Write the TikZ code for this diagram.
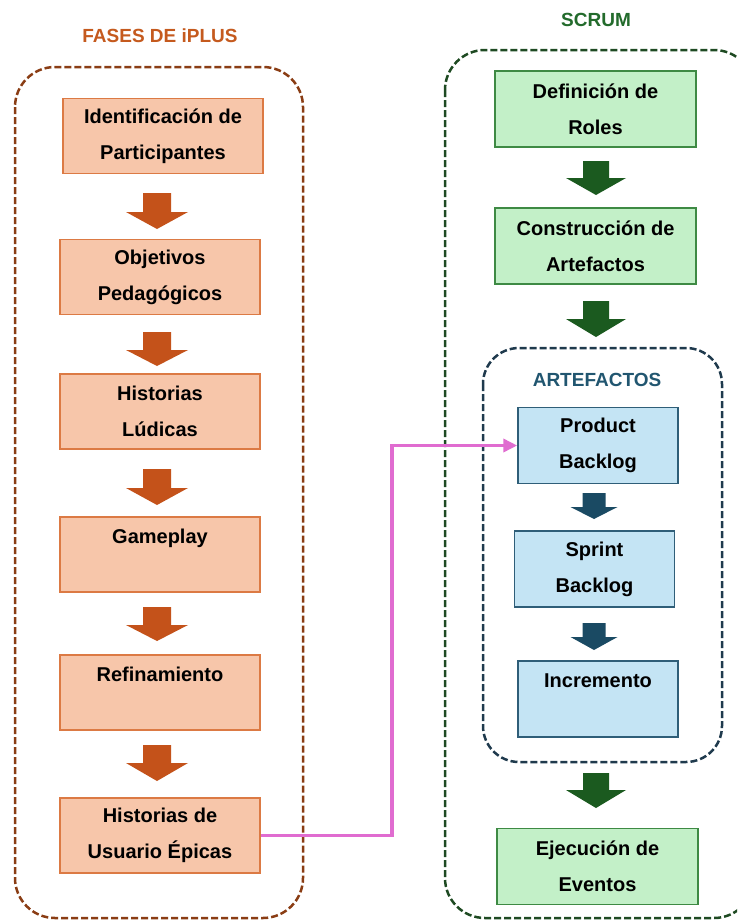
\documentclass[tikz,border=0pt]{standalone}
\usepackage{fontspec}
\setmainfont{Liberation Sans}
\usetikzlibrary{arrows.meta,calc}
\definecolor{ofill}{HTML}{F7C6AA}
\definecolor{oline}{HTML}{DC7A44}
\definecolor{oarr}{HTML}{C4521A}
\definecolor{gfill}{HTML}{C3F0C8}
\definecolor{gline}{HTML}{3E8A44}
\definecolor{garr}{HTML}{1B5A1F}
\definecolor{bfill}{HTML}{C4E4F4}
\definecolor{bline}{HTML}{2F5E78}
\definecolor{barr}{HTML}{1A4A63}
\definecolor{lcont}{HTML}{8A3D14}
\definecolor{rcont}{HTML}{1E4A22}
\definecolor{acont}{HTML}{1F3A4D}
\definecolor{ttlo}{HTML}{C55A1E}
\definecolor{ttlg}{HTML}{236B2C}
\definecolor{ttlb}{HTML}{215670}
\definecolor{link}{HTML}{E06CD0}
\newcommand\DownArr[7]{\fill[#1] ({#2-#6},#3) -- ({#2+#6},#3) -- ({#2+#6},#4) -- ({#2+#7},#4) -- (#2,#5) -- ({#2-#7},#4) -- ({#2-#6},#4) -- cycle;}
\begin{document}
\begin{tikzpicture}[x=1pt,y=-1pt,
  box/.style={draw, line width=1.5pt, minimum width=200pt, minimum height=75pt, inner sep=0pt, align=center, font=\bfseries\fontsize{20}{36}\selectfont},
  obox/.style={box, fill=ofill, draw=oline},
  gbox/.style={box, fill=gfill, draw=gline, minimum width=201pt, minimum height=76pt},
  bbox/.style={box, fill=bfill, draw=bline, minimum width=160pt, minimum height=76pt},
  cont/.style={line width=2.5pt, dash pattern=on 7pt off 3pt, rounded corners=40pt},
  ttl/.style={font=\bfseries\fontsize{19}{22}\selectfont, inner sep=0pt}]
\useasboundingbox (0,0) rectangle (737,921);
\clip (0,0) rectangle (737,921);
\fill[white] (0,0) rectangle (737,921);
% containers
\draw[cont, draw=lcont] (15,67) rectangle (303,918);
\draw[cont, draw=rcont] (445,50) rectangle (754,918);
\draw[cont, draw=acont, rounded corners=36pt] (483,348) rectangle (722,762);
% titles
\node[ttl, text=ttlo] (t1) at (160,36) {FASES DE iPLUS};
\node[ttl, text=ttlg] (t2) at (596,20) {SCRUM};
\node[ttl, text=ttlb] (t3) at (597,380) {ARTEFACTOS};
% left boxes
\node[obox] (L1) at (163,136) {Identificación de\\Participantes};
\node[obox] (L2) at (160,277) {Objetivos\\Pedagógicos};
\node[obox] (L3) at (160,411.5) {Historias\\Lúdicas};
\node[obox] (L4) at (160,554.5) {Gameplay\\\mbox{}};
\node[obox] (L5) at (160,692.5) {Refinamiento\\\mbox{}};
\node[obox] (L6) at (160,835.5) {Historias de\\Usuario Épicas};
% right boxes
\node[gbox] (G1) at (595.5,109) {Definición de\\Roles};
\node[gbox] (G2) at (595.5,246) {Construcción de\\Artefactos};
\node[bbox] (B1) at (598,445.5) {Product\\Backlog};
\node[bbox] (B2) at (594.5,569) {Sprint\\Backlog};
\node[bbox] (B3) at (598,699) {Incremento\\\mbox{}};
\node[gbox] (G3) at (597.5,866.5) {Ejecución de\\Eventos};
% block arrows
\DownArr{oarr}{157}{193}{212}{229}{14}{31}
\DownArr{oarr}{157}{332}{350}{366}{14}{31}
\DownArr{oarr}{157}{469}{488}{505}{14}{31}
\DownArr{oarr}{157}{607}{625}{641}{14}{31}
\DownArr{oarr}{157}{745}{763}{781}{14}{31}
\DownArr{garr}{596}{161}{178}{195}{13}{30}
\DownArr{garr}{596}{301}{319}{337}{13}{30}
\DownArr{garr}{596}{773}{790}{808}{13}{30}
\DownArr{barr}{594}{493}{507}{519}{11.5}{23.5}
\DownArr{barr}{594}{623}{637}{650}{11.5}{23.5}
% link
\draw[link, line width=3.5pt, -{Triangle[length=14pt,width=13pt]}] (L6.east) -- ++(131,0) |- (B1.west);
\end{tikzpicture}
\end{document}
